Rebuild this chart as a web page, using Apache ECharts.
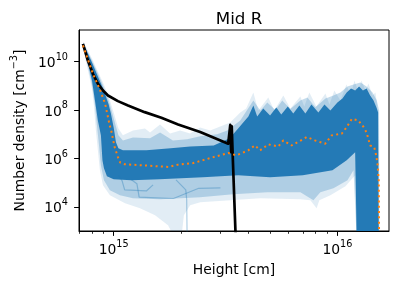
<!DOCTYPE html>
<html><head><meta charset="utf-8">
<script src="https://cdn.jsdelivr.net/npm/echarts@6/dist/echarts.min.js"></script>
<style>html,body{margin:0;padding:0;background:#fff}#c{width:398px;height:288px}</style>
</head><body><div id="c"></div>
<script>
// ---- tick values ----
const xMajorTicks = [1e15, 1e16];
const xMinorTicks = [7e14, 8e14, 9e14, 2e15, 3e15, 4e15, 5e15, 6e15, 7e15, 8e15, 9e15];
const yMajorTicks = [1e4, 1e6, 1e8, 1e10];

// ---- ensemble envelope (dense core) ----
const denseTopX = [7.3e14, 7.5e14, 8e14, 8.5e14, 9e14, 9.5e14, 9.72e14, 1e15, 1.024e15, 1.05e15, 1.1e15, 1.4e15, 1.8e15, 2.2e15, 2.8e15, 3.3e15, 3.6e15, 4e15, 4.21e15, 4.38e15, 4.66e15, 5e15, 5.33e15, 5.61e15, 6e15, 6.35e15, 6.76e15, 7.19e15, 7.65e15, 8.22e15, 8.75e15, 9.3e15, 1e16, 1.053e16, 1.1e16, 1.15e16, 1.2e16, 1.25e16, 1.3e16, 1.35e16, 1.4e16, 1.45e16, 1.5e16, 1.52e16, 1.53e16];
const denseTopY = [5.5e10, 3.4e10, 9.1e9, 2.4e9, 7.0e8, 1.69e8, 7.2e7, 1.9e7, 4.6e6, 2.6e6, 2.14e6, 2.14e6, 2.6e6, 3.1e6, 3.4e6, 6.7e6, 1.73e7, 5.4e7, 1.53e8, 5.4e7, 1.15e8, 5.9e7, 1.27e8, 6.5e7, 1.39e8, 7.2e7, 1.53e8, 7.2e7, 1.69e8, 7.9e7, 1.69e8, 9.5e7, 2.04e8, 2.98e8, 5.3e8, 7.7e8, 6.4e8, 9.3e8, 6.4e8, 7.7e8, 3.96e8, 2.47e8, 1.15e8, 7.9e7, 4e2];
const denseBotX = [7.3e14, 7.5e14, 7.67e14, 8e14, 8.25e14, 8.5e14, 8.77e14, 8.91e14, 9.05e14, 9.33e14, 1e15, 1.2e15, 1.6e15, 2.5e15, 3.6e15, 5e15, 7e15, 9.5e15, 1.1e16, 1.2e16, 1.22e16];
const denseBotY = [5.5e10, 2.14e10, 9.1e9, 1.64e9, 2.47e8, 3.7e7, 8.9e6, 8.3e5, 3.9e5, 1.81e5, 1.36e5, 1.24e5, 1.36e5, 1.65e5, 1.99e5, 1.65e5, 1.99e5, 3.2e5, 8.3e5, 1.77e6, 4e2];

// ---- ensemble envelope (medium density) ----
const midTopX = [7.3e14, 8e14, 8.5e14, 9e14, 9.5e14, 1e15, 1.05e15, 1.1e15, 1.22e15, 1.454e15, 1.612e15, 1.84e15, 2.13e15, 2.436e15, 2.9e15, 3.22e15, 3.678e15, 4.21e15, 4.52e15, 4.86e15, 5.28e15, 5.67e15, 6.16e15, 6.83e15, 7.34e15, 7.97e15, 8.84e15, 9.6e15, 1.031e16, 1.109e16, 1.18e16, 1.268e16, 1.349e16, 1.435e16, 1.5e16, 1.535e16, 1.54e16];
const midTopY = [6.1e10, 1.1e10, 3.2e9, 9.3e8, 2.47e8, 4.5e7, 8.9e6, 5.5e6, 7.3e6, 6.7e6, 1.18e7, 5.5e6, 6.1e6, 8.1e6, 9.8e6, 1.43e7, 3.69e7, 2.47e8, 9.5e7, 2.04e8, 1.0e8, 2.47e8, 1.1e8, 2.47e8, 3.3e8, 1.3e8, 2.98e8, 3.96e8, 5.3e8, 9.3e8, 1.13e9, 1.36e9, 9.3e8, 5.3e8, 2.47e8, 9.5e7, 4e2];
const midBotX = [7.3e14, 7.5e14, 8e14, 8.25e14, 8.42e14, 8.6e14, 8.77e14, 9.05e14, 9.62e14, 1.067e15, 1.22e15, 1.612e15, 2.436e15, 3.42e15, 4.86e15, 6.83e15, 7.81e15, 8.39e15, 9.6e15, 1.109e16, 1.18e16, 1.22e16];
const midBotY = [5.0e10, 1.6e10, 1.13e9, 1.53e8, 2.3e7, 3.44e6, 5.1e5, 1.24e5, 4.8e4, 3.0e4, 2.24e4, 2.04e4, 2.47e4, 3.27e4, 3.96e4, 3.96e4, 1.85e4, 3.96e4, 5.8e4, 1.24e5, 3.2e5, 4e2];

// ---- ensemble envelope (faint outer wisps) ----
const faintTopX = [7.3e14, 8e14, 8.5e14, 9e14, 9.5e14, 1e15, 1.05e15, 1.1e15, 1.22e15, 1.38e15, 1.454e15, 1.612e15, 1.787e15, 1.982e15, 2.197e15, 2.436e15, 2.7e15, 2.994e15, 3.318e15, 3.678e15, 3.91e15, 4.21e15, 4.43e15, 4.91e15, 5.22e15, 5.73e15, 6.16e15, 6.83e15, 7.11e15, 7.49e15, 8.05e15, 8.84e15, 9.21e15, 9.69e15, 1.031e16, 1.097e16, 1.144e16, 1.192e16, 1.242e16, 1.28e16, 1.334e16, 1.376e16, 1.435e16, 1.479e16, 1.506e16, 1.54e16];
const faintTopY = [6.7e10, 1.33e10, 3.9e9, 1.24e9, 3.6e8, 7.9e7, 1.73e7, 8.9e6, 1.43e7, 1.73e7, 1.18e7, 2.5e7, 1.07e7, 1.43e7, 1.07e7, 1.9e7, 1.43e7, 2.09e7, 3.05e7, 7.9e7, 1.15e8, 5.3e8, 9.5e7, 3.3e8, 9.5e7, 3.96e8, 1.15e8, 3.6e8, 1.39e8, 5.3e8, 1.39e8, 4.8e8, 1.69e8, 6.4e8, 2.47e8, 1.13e9, 3.96e8, 1.64e9, 5.3e8, 1.64e9, 6.4e8, 1.24e9, 3.96e8, 5.3e8, 1.53e8, 4e2];
const faintBotX = [7.3e14, 7.5e14, 8e14, 8.16e14, 8.33e14, 8.5e14, 8.68e14, 8.96e14, 9.62e14, 1.124e15, 1.312e15, 1.531e15, 1.75e15, 1.9e15, 2.0e15, 2.06e15, 2.197e15, 2.436e15, 3.318e15, 4.52e15, 6.83e15, 7.57e15, 8.07e15, 8.3e15, 9.3e15, 1.086e16, 1.167e16, 1.204e16, 1.216e16];
const faintBotY = [4.6e10, 1.1e10, 7.7e8, 1.53e8, 1.43e7, 2.14e6, 3.2e5, 7.7e4, 3.0e4, 1.39e4, 8.7e3, 4.46e3, 1.73e3, 4e2, 4e2, 4.46e3, 1.15e4, 1.53e4, 1.85e4, 2.24e4, 2.04e4, 1.85e4, 8.7e3, 1.85e4, 2.98e4, 7.0e4, 1.5e5, 1.99e5, 4e2];

// ---- a few individually visible ensemble members ----
const memberAX = [1.9e15, 2.1e15, 2.12e15, 2.13e15];
const memberAY = [1.3e5, 5e4, 2e4, 4e2];
const memberBX = [1.2e15, 1.27e15, 1.3e15, 1.85e15, 2.4e15, 3.0e15];
const memberBY = [1.3e5, 9e4, 2.5e4, 2.2e4, 5.8e4, 6e4];
const memberCX = [1.05e15, 1.09e15, 1.12e15, 1.4e15, 1.5e15];
const memberCY = [2e5, 1.2e5, 5e4, 4.5e4, 8e4];

// ---- black model profile ----
const blackX = [7.29e14, 7.67e14, 8.08e14, 8.51e14, 8.96e14, 9.43e14, 1.045e15, 1.159e15, 1.376e15, 1.634e15, 1.941e15, 2.436e15, 3.25e15, 3.31e15, 3.32e15, 3.35e15, 3.37e15, 3.40e15, 3.50e15, 3.53e15];
const blackY = [5.37e10, 1.1e10, 3.11e9, 1.2e9, 6.37e8, 3.96e8, 2.31e8, 1.53e8, 8.11e7, 4.76e7, 2.52e7, 1.22e7, 4.04e6, 3.4e6, 2.4e7, 1.8e6, 2.1e7, 1.8e6, 1.07e3, 4e2];

// ---- orange median ----
const medX = [7.29e14, 8.08e14, 8.65e14, 9.16e14, 9.6e14, 9.75e14, 1.01e15, 1.045e15, 1.07e15, 1.12e15, 1.38e15, 1.76e15, 1.94e15, 2.27e15, 2.74e15, 3.25e15, 3.54e15, 3.99e15, 4.28e15, 4.51e15, 4.91e15, 5.44e15, 5.73e15, 6.24e15, 7.3e15, 7.94e15, 8.81e15, 9.42e15, 1.045e16, 1.10e16, 1.16e16, 1.24e16, 1.31e16, 1.35e16, 1.40e16, 1.46e16, 1.49e16, 1.51e16, 1.53e16, 1.535e16];
const medY = [4.6e10, 3.1e9, 7.5e8, 1.8e8, 2.3e7, 1.43e7, 2.9e6, 1.13e6, 6.7e5, 5.7e5, 5.1e5, 4.4e5, 5.5e5, 6.4e5, 1.07e6, 1.66e6, 1.33e6, 2.14e6, 3.44e6, 2.14e6, 3.78e6, 3.1e6, 5.5e6, 3.4e6, 7.6e6, 5.5e6, 4.0e6, 8.9e6, 1.04e7, 1.95e7, 4.3e7, 3.7e7, 1.95e7, 1.17e7, 3.4e6, 2.9e6, 1.33e6, 6.0e5, 1.24e5, 4e2];

const FONT = 'DejaVu Sans';
const zip = (xs, ys) => xs.map((x, i) => [x, ys[i]]);

function band(topX, topY, botX, botY, fill, z) {
  const pts = zip(topX, topY).concat(zip(botX, botY).reverse());
  return {
    type: 'custom', coordinateSystem: 'cartesian2d', xAxisIndex: 0, yAxisIndex: 0,
    clip: true, silent: true, z: z, data: pts, encode: {x: 0, y: 1},
    renderItem: function (params, api) {
      if (params.dataIndexInside !== 0) return null;
      const poly = [];
      for (let i = 0; i < params.dataInsideLength; i++) {
        poly.push(api.coord([api.value(0, i), api.value(1, i)]));
      }
      return {type: 'polygon', shape: {points: poly}, style: {fill: fill, stroke: null}};
    }
  };
}
function line(xs, ys, style, z) {
  return {type: 'line', xAxisIndex: 0, yAxisIndex: 0, data: zip(xs, ys), symbol: 'none',
    showSymbol: false, clip: true, silent: true, z: z, lineStyle: style};
}
const supFmt = v => '{b|10}{s|' + Math.round(Math.log10(v)) + '}';
const rich = {
  b: {fontFamily: FONT, fontSize: 13.9, color: '#000', lineHeight: 18, verticalAlign: 'bottom'},
  s: {fontFamily: FONT, fontSize: 9.7, color: '#000', lineHeight: 10, verticalAlign: 'top'}
};

const gridBox = {left: 79, right: 9, top: 30, bottom: 57};
const option = {
  animation: false,
  backgroundColor: '#fff',
  title: {text: 'Mid R', left: 234, top: 6, textAlign: 'center',
    textStyle: {fontFamily: FONT, fontSize: 16.7, fontWeight: 'normal', color: '#000'}},
  grid: [Object.assign({show: true, borderColor: '#000', borderWidth: 1, backgroundColor: 'transparent'}, gridBox),
         Object.assign({show: false}, gridBox)],
  xAxis: [{
    gridIndex: 0, type: 'log', logBase: 10, min: 7e14, max: 1.7e16,
    name: 'Height [cm]', nameLocation: 'middle', nameGap: 32,
    nameTextStyle: {fontFamily: FONT, fontSize: 13.9, color: '#000'},
    axisLine: {show: true, onZero: false, lineStyle: {color: '#000', width: 1}},
    axisTick: {show: true, length: 4.9, customValues: xMajorTicks, lineStyle: {color: '#000', width: 1}},
    axisLabel: {show: true, customValues: xMajorTicks, formatter: supFmt, rich: rich, margin: 8},
    splitLine: {show: false}, minorTick: {show: false}
  }, {
    gridIndex: 1, type: 'log', logBase: 10, min: 7e14, max: 1.7e16,
    axisLine: {show: false},
    axisTick: {show: true, length: 2.8, customValues: xMinorTicks, lineStyle: {color: '#000', width: 0.8}},
    axisLabel: {show: false}, splitLine: {show: false}
  }],
  yAxis: [{
    gridIndex: 0, type: 'log', logBase: 10, min: 1e3, max: 2e11,
    name: '{a|Number density [cm}{s|−3}{a|]}', nameLocation: 'middle', nameGap: 50, nameRotate: 90,
    nameTextStyle: {rich: {
      a: {fontFamily: FONT, fontSize: 13.9, color: '#000', lineHeight: 18, verticalAlign: 'bottom'},
      s: {fontFamily: FONT, fontSize: 9.7, color: '#000', lineHeight: 10, verticalAlign: 'top'}}},
    axisLine: {show: true, onZero: false, lineStyle: {color: '#000', width: 1}},
    axisTick: {show: true, length: 4.9, customValues: yMajorTicks, lineStyle: {color: '#000', width: 1}},
    axisLabel: {show: true, customValues: yMajorTicks, formatter: supFmt, rich: rich, margin: 11},
    splitLine: {show: false}, minorTick: {show: false}
  }, {
    gridIndex: 1, type: 'log', logBase: 10, min: 1e3, max: 2e11, show: false
  }],
  series: [
    band(faintTopX, faintTopY, faintBotX, faintBotY, 'rgba(31,119,180,0.13)', 1),
    band(midTopX, midTopY, midBotX, midBotY, 'rgba(31,119,180,0.26)', 2),
    line(memberAX, memberAY, {color: 'rgba(31,119,180,0.35)', width: 1.2}, 3),
    line(memberBX, memberBY, {color: 'rgba(31,119,180,0.35)', width: 1.2}, 3),
    line(memberCX, memberCY, {color: 'rgba(31,119,180,0.35)', width: 1.2}, 3),
    band(denseTopX, denseTopY, denseBotX, denseBotY, 'rgba(31,119,180,0.97)', 4),
    line(blackX, blackY, {color: '#000', width: 2.7, cap: 'butt', join: 'round'}, 5),
    line(medX, medY, {color: '#ff7f0e', width: 2, type: [2, 3.3], cap: 'butt'}, 6)
  ]
};
const chart = echarts.init(document.getElementById('c'), null, {renderer: 'canvas'});
chart.setOption(option);
</script></body></html>
